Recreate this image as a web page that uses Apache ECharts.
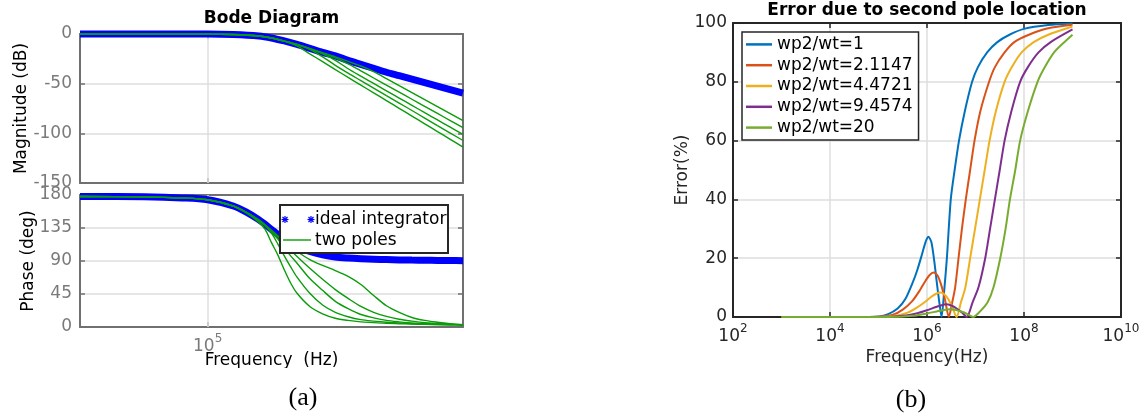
<!DOCTYPE html>
<html><head><meta charset="utf-8">
<script src="https://cdn.jsdelivr.net/npm/echarts@6/dist/echarts.min.js"></script>
<style>html,body{margin:0;padding:0;background:#fff}#c{width:1145px;height:420px}</style>
</head><body><div id="c"></div>
<script>
// ---------------- DATA ----------------
// (a) Bode diagram, x = log10(frequency / Hz)
const magFreq = [4.0,4.5,5.0,5.2,5.4,5.5,5.6,5.7,5.8,5.9,6.0,6.1,6.2,6.3,6.4,6.5,6.6,6.7,6.8,6.9,7.0];
const magIdeal = [0,0,0,-0.5,-2,-4,-7,-10.5,-14.5,-18.5,-22,-26.5,-30.5,-34.5,-38.5,-42,-45.5,-49,-52.5,-56,-59.5];
const magTwoPoles1 = [0,0,0,-0.5,-2,-4,-7.2,-10.5,-14.6,-18.8,-23,-27.5,-32.2,-37.9,-44.9,-52,-59,-66.1,-73.1,-80.1,-87.1];
const magTwoPoles2 = [0,0,0,-0.5,-2,-4,-7.2,-10.5,-14.8,-19.2,-24,-30.1,-37.2,-44.3,-51.5,-58.6,-65.7,-72.9,-80,-87.1,-94.3];
const magTwoPoles3 = [0,0,0,-0.5,-2,-4,-7.2,-10.5,-15,-20,-26.5,-35,-42.5,-49.8,-57.2,-64.5,-71.8,-79.2,-86.5,-93.8,-101.1];
const magTwoPoles4 = [0,0,0,-0.5,-2,-4,-7.2,-11,-15.5,-23,-31.5,-39.4,-46.9,-54.4,-62,-69.5,-77,-84.6,-92.2,-99.7,-107.2];
const magTwoPoles5 = [0,0,0,-0.5,-2,-4,-7.2,-12,-20,-27.8,-35.8,-43.7,-51.5,-59.2,-67,-74.8,-82.6,-90.4,-98.2,-106,-113.8];

const phaseFreq = [4.0,4.5,4.8,5.0,5.2,5.3,5.4,5.45,5.5,5.55,5.6,5.65,5.7,5.8,5.9,6.0,6.1,6.2,6.3,6.4,6.5,6.6,6.7,6.8,6.9,7.0];
const phaseIdeal = [178,177.5,176,173.5,165,157,146.5,140,133,126,119.5,114,109.5,103,98.5,95.5,94,93,92.3,92,91.5,91.2,91,90.8,90.6,90.4];
const phaseTwoPoles1 = [178,177.5,176,173.5,165,156.5,146,139.5,132,124.5,117,110,103,92,84,77,69,58,43,29,20,13,9,6.5,4.5,3];
const phaseTwoPoles2 = [178,177.5,176,173.5,165,156.5,146,139,131,123,115,105,96,80,65,51,39,28,20,14.5,10.5,8,6,5,4,3.2];
const phaseTwoPoles3 = [178,177.5,176,173.5,165,156.5,145.5,138.5,130,120,108,97,87,66,50,35,25,17,12.5,9,7,5.5,4.7,4,3.4,3];
const phaseTwoPoles4 = [178,177.5,176,173.5,165,156.5,145,138,128,113,97,82,68,46,30,20,14,10,8,6.5,5.5,4.5,4,3.5,3.1,2.8];
const phaseTwoPoles5 = [178,177.5,176,173.5,165,156,143,133,115,98,78,60,46,28,18,12,9,7,6,5,4.5,4,3.6,3.2,3,2.7];

const magTicks = [0,-50,-100,-150];
const phaseTicks = [0,45,90,135,180];
const freqTickExpA = [5];

// (b) Error due to second pole location, x = log10(frequency / Hz)
const errNames = ['wp2/wt=1','wp2/wt=2.1147','wp2/wt=4.4721','wp2/wt=9.4574','wp2/wt=20'];
const errFreq1 = [3,4.5,5.0,5.2,5.4,5.55,5.7,5.8,5.9,5.97,6.03,6.09,6.15,6.2,6.25,6.30,6.36,6.41,6.49,6.57,6.66,6.78,6.93,7.05,7.24,7.45,7.7,8.0,8.5,9.0];
const errVal1  = [0,0,0.2,1,3,6,11.5,16,21.5,25.5,27.3,25.5,19,12,5.5,0,10,20,40,50,60,70,80,85,90,93.5,96,98,99.3,99.8];
const errFreq2 = [3,4.5,5.0,5.3,5.5,5.7,5.85,5.95,6.05,6.14,6.22,6.3,6.37,6.45,6.52,6.58,6.65,6.72,6.80,6.89,6.98,7.1,7.28,7.4,7.6,7.8,8.1,8.5,9.0];
const errVal2  = [0,0,0.1,0.8,2.5,5.5,9,11.8,14.2,15.1,14,10.5,6,0,5,10,20,30,40,50,60,70,80,85,90,93.5,96,98.2,99.4];
const errFreq3 = [3,4.8,5.3,5.6,5.8,5.95,6.1,6.2,6.27,6.35,6.45,6.53,6.61,6.7,6.79,6.89,6.99,7.09,7.19,7.29,7.42,7.6,7.75,7.95,8.2,8.5,9.0];
const errVal3  = [0,0,0.3,1.5,3.3,5,7,8,8.3,7.8,5.8,3,0,5,10,20,30,40,50,60,70,80,85,90,93.5,96,98.8];
const errFreq4 = [3,5.0,5.5,5.8,6.0,6.2,6.32,6.39,6.5,6.62,6.72,6.82,6.94,7.06,7.2,7.3,7.4,7.5,7.6,7.74,7.92,8.08,8.3,8.55,9.0];
const errVal4  = [0,0,0.4,1.3,2.3,3.5,4.1,4.3,3.9,2.8,1.5,0,5,10,20,30,40,50,60,70,80,85,90,93.5,97.8];
const errFreq5 = [3,5.2,5.7,6.0,6.2,6.35,6.47,6.6,6.75,6.85,6.95,7.1,7.25,7.37,7.51,7.62,7.71,7.82,7.92,8.08,8.28,8.43,8.62,8.8,9.0];
const errVal5  = [0,0,0.4,1.2,1.9,2.4,2.6,2.4,1.6,0.8,0,2,5,10,20,30,40,50,60,70,80,85,90,93,96];

const errTicks = [0,20,40,60,80,100];
const freqTickExpB = [2,4,6,8,10];

// ---------------- CHART ----------------
const FONT = 'DejaVu Sans';
const A_AX = '#707070', A_LAB = '#7a7a7a', B_AX = '#262626', GRID_C = '#dedede';
const BLUE = '#0000ff', GREEN = '#0a9c0a';
const errColors = ['#0072BD','#D95319','#EDB120','#7E2F8E','#77AC30'];

const pair = (xs, ys) => xs.map((x, i) => [x, ys[i]]);
const span = t => [Math.min(...t), Math.max(...t)];
const step = t => Math.abs(t[1] - t[0]);

const supFmt = v => '{base|10}{sup|' + v + '}';
const rich = (color) => ({
  base: {fontSize: 17, fontFamily: FONT, color: color, verticalAlign: 'bottom', lineHeight: 20},
  sup: {fontSize: 12, fontFamily: FONT, color: color, verticalAlign: 'bottom', lineHeight: 14, padding: [0, 0, 10, 0]}
});

const aLine = {show: true, onZero: false, lineStyle: {color: A_AX, width: 2}};
const aTick = {show: true, inside: true, length: 5, lineStyle: {color: A_AX, width: 1.5}, customValues: freqTickExpA};
const bLine = {show: true, onZero: false, lineStyle: {color: B_AX, width: 2}};
const bTick = {show: true, inside: true, length: 5, lineStyle: {color: B_AX, width: 1.5}};
const split = {show: true, lineStyle: {color: GRID_C, width: 1.5}};
const noLab = {show: false};

const xA = [4, 7];
const [magMin, magMax] = span(magTicks);
const [phMin, phMax] = span(phaseTicks);
const [fbMin, fbMax] = span(freqTickExpB);
const [eMin, eMax] = span(errTicks);

const xAxis = [
  {gridIndex: 0, type: 'value', min: xA[0], max: xA[1], interval: 1, position: 'bottom', axisLine: aLine, axisTick: aTick, axisLabel: noLab, splitLine: {show: false}},
  {gridIndex: 0, type: 'value', min: xA[0], max: xA[1], interval: 1, position: 'top', axisLine: aLine, axisTick: aTick, axisLabel: noLab, splitLine: {show: false}},
  {gridIndex: 1, type: 'value', min: xA[0], max: xA[1], interval: 1, position: 'bottom', axisLine: aLine, axisTick: aTick,
   axisLabel: {show: true, customValues: freqTickExpA, margin: 8, fontSize: 17, fontFamily: FONT, color: A_LAB,
     formatter: v => freqTickExpA.indexOf(v) >= 0 ? supFmt(v) : '', rich: rich(A_LAB)},
   splitLine: {show: false},
   name: 'Frequency  (Hz)', nameLocation: 'middle', nameGap: 25, nameMoveOverlap: false,
   nameTextStyle: {fontSize: 17, fontFamily: FONT, color: '#000'}},
  {gridIndex: 1, type: 'value', min: xA[0], max: xA[1], interval: 1, position: 'top', axisLine: aLine, axisTick: aTick, axisLabel: noLab, splitLine: {show: false}},
  {gridIndex: 2, type: 'value', min: fbMin, max: fbMax, interval: step(freqTickExpB), position: 'bottom', axisLine: bLine, axisTick: bTick,
   axisLabel: {margin: 8, fontSize: 17, fontFamily: FONT, color: B_AX, formatter: supFmt, rich: rich(B_AX), showMinLabel: true, showMaxLabel: true},
   splitLine: split, name: 'Frequency(Hz)', nameLocation: 'middle', nameGap: 32, nameMoveOverlap: false,
   nameTextStyle: {fontSize: 17, fontFamily: FONT, color: B_AX}},
  {gridIndex: 2, type: 'value', min: fbMin, max: fbMax, interval: step(freqTickExpB), position: 'top', axisLine: bLine, axisTick: bTick, axisLabel: noLab, splitLine: {show: false}}
];

const aYLab = {show: true, margin: 8, fontSize: 17, fontFamily: FONT, color: A_LAB};
const aYTick = {show: true, inside: true, length: 5, lineStyle: {color: A_AX, width: 1.5}};
const yAxis = [
  {gridIndex: 0, type: 'value', min: magMin, max: magMax, interval: step(magTicks), position: 'left', axisLine: aLine, axisTick: aYTick, axisLabel: aYLab, splitLine: split,
   name: 'Magnitude (dB)', nameLocation: 'middle', nameGap: 50, nameMoveOverlap: false, nameTextStyle: {fontSize: 17, fontFamily: FONT, color: '#000'}},
  {gridIndex: 0, type: 'value', min: magMin, max: magMax, interval: step(magTicks), position: 'right', axisLine: aLine, axisTick: aYTick, axisLabel: noLab, splitLine: {show: false}},
  {gridIndex: 1, type: 'value', min: phMin, max: phMax, interval: step(phaseTicks), position: 'left', axisLine: aLine, axisTick: aYTick, axisLabel: aYLab, splitLine: split,
   name: 'Phase (deg)', nameLocation: 'middle', nameGap: 43, nameMoveOverlap: false, nameTextStyle: {fontSize: 17, fontFamily: FONT, color: '#000'}},
  {gridIndex: 1, type: 'value', min: phMin, max: phMax, interval: step(phaseTicks), position: 'right', axisLine: aLine, axisTick: aYTick, axisLabel: noLab, splitLine: {show: false}},
  {gridIndex: 2, type: 'value', min: eMin, max: eMax, interval: step(errTicks), position: 'left', axisLine: bLine, axisTick: bTick,
   axisLabel: {margin: 6, fontSize: 17, fontFamily: FONT, color: B_AX}, splitLine: split,
   name: 'Error(%)', nameLocation: 'middle', nameGap: 42, nameMoveOverlap: false, nameTextStyle: {fontSize: 17, fontFamily: FONT, color: B_AX}},
  {gridIndex: 2, type: 'value', min: eMin, max: eMax, interval: step(errTicks), position: 'right', axisLine: bLine, axisTick: bTick, axisLabel: noLab, splitLine: {show: false}}
];

const series = [];
// vertical grid line at 10^5 for the Bode axes
[0, 2].forEach(xi => series.push({
  type: 'line', xAxisIndex: xi, yAxisIndex: xi, data: [], silent: true, z: 1,
  markLine: {z: 1, silent: true, symbol: 'none', animation: false, label: {show: false},
    lineStyle: {color: GRID_C, width: 1.5, type: 'solid'}, data: freqTickExpA.map(v => ({xAxis: v}))}
}));
series.push({name: 'ideal integrator', type: 'line', xAxisIndex: 0, yAxisIndex: 0, data: pair(magFreq, magIdeal),
  showSymbol: false, smooth: 0.3, clip: false, lineStyle: {color: BLUE, width: 7}, itemStyle: {color: BLUE}, z: 2});
[magTwoPoles1, magTwoPoles2, magTwoPoles3, magTwoPoles4, magTwoPoles5].forEach(d => series.push({
  name: 'two poles', type: 'line', xAxisIndex: 0, yAxisIndex: 0, data: pair(magFreq, d),
  showSymbol: false, smooth: 0.3, lineStyle: {color: GREEN, width: 1.4}, itemStyle: {color: GREEN}, z: 3}));
series.push({name: 'ideal integrator', type: 'line', xAxisIndex: 2, yAxisIndex: 2, data: pair(phaseFreq, phaseIdeal),
  showSymbol: false, smooth: 0.3, clip: false, lineStyle: {color: BLUE, width: 7}, itemStyle: {color: BLUE}, z: 2});
[phaseTwoPoles1, phaseTwoPoles2, phaseTwoPoles3, phaseTwoPoles4, phaseTwoPoles5].forEach(d => series.push({
  name: 'two poles', type: 'line', xAxisIndex: 2, yAxisIndex: 2, data: pair(phaseFreq, d),
  showSymbol: false, smooth: 0.3, lineStyle: {color: GREEN, width: 1.4}, itemStyle: {color: GREEN}, z: 3}));
[[errFreq1, errVal1], [errFreq2, errVal2], [errFreq3, errVal3], [errFreq4, errVal4], [errFreq5, errVal5]].forEach((p, i) => series.push({
  name: errNames[i], type: 'line', xAxisIndex: 4, yAxisIndex: 4, data: pair(p[0], p[1]),
  showSymbol: false, smooth: 0.25, lineStyle: {color: errColors[i], width: 2}, itemStyle: {color: errColors[i]}, z: 3 + i}));

function asterisk(cx, cy, r, color) {
  const d = r * 0.72, st = {stroke: color, lineWidth: 1.2};
  return [
    {type: 'line', shape: {x1: cx - r, y1: cy, x2: cx + r, y2: cy}, style: st, z: 101},
    {type: 'line', shape: {x1: cx, y1: cy - r, x2: cx, y2: cy + r}, style: st, z: 101},
    {type: 'line', shape: {x1: cx - d, y1: cy - d, x2: cx + d, y2: cy + d}, style: st, z: 101},
    {type: 'line', shape: {x1: cx - d, y1: cy + d, x2: cx + d, y2: cy - d}, style: st, z: 101}
  ];
}

const graphic = [
  {type: 'rect', shape: {x: 280, y: 205, width: 168, height: 48}, style: {fill: '#fff', stroke: '#262626', lineWidth: 2}, z: 100},
  ...asterisk(285, 219.5, 3.5, BLUE),
  ...asterisk(311, 219.5, 3.5, BLUE),
  {type: 'text', x: 315, y: 220, style: {text: 'ideal integrator', font: '17px "DejaVu Sans"', fill: '#000', verticalAlign: 'middle'}, z: 101},
  {type: 'line', shape: {x1: 283, y1: 240, x2: 311, y2: 240}, style: {stroke: GREEN, lineWidth: 1.4}, z: 101},
  {type: 'text', x: 315, y: 241, style: {text: 'two poles', font: '17px "DejaVu Sans"', fill: '#000', verticalAlign: 'middle'}, z: 101},
  // picture is cropped just below the (a) x-axis title
  {type: 'rect', shape: {x: 150, y: 368, width: 260, height: 12}, style: {fill: '#fff'}, z: 200},
  {type: 'text', x: 303, y: 398, style: {text: '(a)', font: '26px "Liberation Serif"', fill: '#000', align: 'center', verticalAlign: 'middle'}, z: 101},
  {type: 'text', x: 911, y: 400, style: {text: '(b)', font: '26px "Liberation Serif"', fill: '#000', align: 'center', verticalAlign: 'middle'}, z: 101}
];

const option = {
  animation: false,
  backgroundColor: '#fff',
  title: [
    {text: 'Bode Diagram', left: 271.5, top: 10, textAlign: 'center', padding: 0,
     textStyle: {fontSize: 17, fontWeight: 'bold', fontFamily: FONT, color: '#000'}},
    {text: 'Error due to second pole location', left: 927, top: 2, textAlign: 'center', padding: 0,
     textStyle: {fontSize: 17, fontWeight: 'bold', fontFamily: FONT, color: '#000'}}
  ],
  legend: {
    data: errNames, orient: 'vertical', left: 742, top: 32,
    backgroundColor: '#fff', borderColor: '#262626', borderWidth: 1.5, borderRadius: 0,
    padding: [2, 6, 2, 4], itemGap: 0, itemWidth: 26, itemHeight: 2.5, icon: 'rect',
    textStyle: {fontSize: 17, fontFamily: FONT, color: '#000', lineHeight: 20.8}
  },
  grid: [
    {left: 80, top: 34, width: 383, height: 149, outerBoundsMode: 'none'},
    {left: 80, top: 195, width: 383, height: 132, outerBoundsMode: 'none'},
    {left: 733, top: 23, width: 388, height: 294, outerBoundsMode: 'none'}
  ],
  xAxis: xAxis,
  yAxis: yAxis,
  series: series,
  graphic: graphic
};

const chart = echarts.init(document.getElementById('c'), null, {renderer: 'canvas'});
chart.setOption(option);
</script></body></html>
